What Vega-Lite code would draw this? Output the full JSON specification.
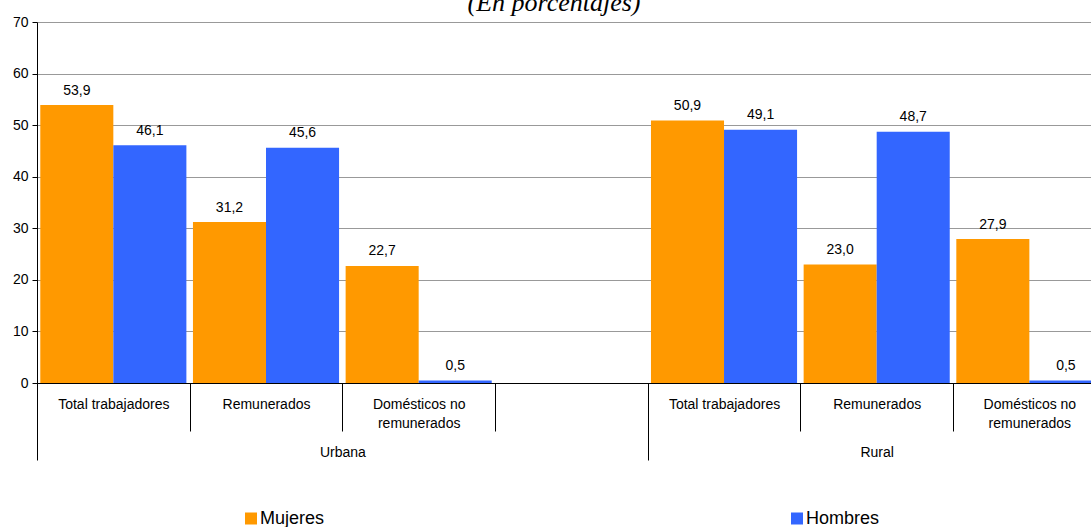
{
  "$schema": "https://vega.github.io/schema/vega-lite/v6.json",
  "width": 1054,
  "height": 361,
  "autosize": {"type": "none"},
  "padding": {"left": 37, "top": 22, "right": 0, "bottom": 144},
  "background": "white",
  "title": {
    "text": "(En porcentajes)",
    "font": "Liberation Serif",
    "fontStyle": "italic",
    "fontWeight": "normal",
    "fontSize": 26,
    "color": "black",
    "baseline": "alphabetic",
    "anchor": "middle",
    "frame": "group",
    "offset": 1,
    "dx": -10,
    "dy": 23
  },
  "datasets": {
    "barras": [
      {"area": "Urbana", "columna": "Urbana|Total trabajadores", "sexo": "Mujeres", "valor": 53.9},
      {"area": "Urbana", "columna": "Urbana|Total trabajadores", "sexo": "Hombres", "valor": 46.1},
      {"area": "Urbana", "columna": "Urbana|Remunerados", "sexo": "Mujeres", "valor": 31.2},
      {"area": "Urbana", "columna": "Urbana|Remunerados", "sexo": "Hombres", "valor": 45.6},
      {"area": "Urbana", "columna": "Urbana|Domésticos no remunerados", "sexo": "Mujeres", "valor": 22.7},
      {"area": "Urbana", "columna": "Urbana|Domésticos no remunerados", "sexo": "Hombres", "valor": 0.5},
      {"area": "Rural", "columna": "Rural|Total trabajadores", "sexo": "Mujeres", "valor": 50.9},
      {"area": "Rural", "columna": "Rural|Total trabajadores", "sexo": "Hombres", "valor": 49.1},
      {"area": "Rural", "columna": "Rural|Remunerados", "sexo": "Mujeres", "valor": 23.0},
      {"area": "Rural", "columna": "Rural|Remunerados", "sexo": "Hombres", "valor": 48.7},
      {"area": "Rural", "columna": "Rural|Domésticos no remunerados", "sexo": "Mujeres", "valor": 27.9},
      {"area": "Rural", "columna": "Rural|Domésticos no remunerados", "sexo": "Hombres", "valor": 0.5}
    ],
    "grupos": [
      {"grupo": "Urbana", "desde": 0, "hasta": 4},
      {"grupo": "Rural", "desde": 4, "hasta": 7}
    ]
  },
  "layer": [
    {
      "data": {"name": "barras"},
      "encoding": {
        "x": {
          "field": "columna",
          "type": "nominal",
          "scale": {
            "domain": ["Urbana|Total trabajadores", "Urbana|Remunerados", "Urbana|Domésticos no remunerados", "Urbana|", "Rural|Total trabajadores", "Rural|Remunerados", "Rural|Domésticos no remunerados"],
            "range": [0, 1068.7],
            "paddingInner": 0,
            "paddingOuter": 0
          },
          "axis": {
            "title": null,
            "orient": "bottom",
            "tickBand": "extent",
            "tickSize": 48,
            "tickColor": "black",
            "tickWidth": 1,
            "domainColor": "black",
            "domainWidth": 1,
            "grid": false,
            "labelAngle": 0,
            "labelPadding": -34,
            "labelOverlap": false,
            "labelLineHeight": 19,
            "labelFontSize": 14,
            "labelExpr": "split(datum.value, '|')[1] == 'Domésticos no remunerados' ? ['Domésticos no', 'remunerados'] : (split(datum.value, '|')[1] || '')"
          }
        },
        "xOffset": {
          "field": "sexo",
          "type": "nominal",
          "scale": {"domain": ["Mujeres", "Hombres"], "paddingInner": 0, "paddingOuter": 0.045}
        },
        "y": {
          "field": "valor",
          "type": "quantitative",
          "scale": {"domain": [0, 70], "nice": false},
          "axis": {
            "title": null,
            "values": [0, 10, 20, 30, 40, 50, 60, 70],
            "tickSize": 5,
            "tickColor": "black",
            "domainColor": "black",
            "gridColor": "#999999",
            "gridWidth": 1,
            "labelPadding": 4,
            "labelFontSize": 14
          }
        }
      },
      "layer": [
        {
          "mark": {"type": "bar"},
          "encoding": {
            "color": {
              "field": "sexo",
              "type": "nominal",
              "scale": {"domain": ["Mujeres", "Hombres"], "range": ["#FF9900", "#3366FF"]},
              "legend": {
                "title": null,
                "orient": "none",
                "legendX": 205,
                "legendY": 487.5,
                "direction": "horizontal",
                "symbolType": "square",
                "symbolSize": 144,
                "symbolStrokeWidth": 0,
                "labelFontSize": 18,
                "labelOffset": 0,
                "columnPadding": 463,
                "padding": 0
              }
            }
          }
        },
        {
          "mark": {"type": "text", "baseline": "alphabetic", "dy": -10.5, "fontSize": 14, "font": "Liberation Sans", "color": "black"},
          "encoding": {
            "text": {"field": "valor", "type": "quantitative", "format": ".1f"}
          }
        }
      ]
    },
    {
      "data": {"name": "grupos"},
      "mark": {"type": "rule", "opacity": 0},
      "encoding": {
        "x": {
          "field": "desde",
          "type": "quantitative",
          "scale": {"domain": [0, 7], "range": [0, 1068.7], "nice": false, "zero": false},
          "axis": {
            "orient": "bottom",
            "title": null,
            "values": [0, 4, 7],
            "tickSize": 77,
            "tickColor": "black",
            "tickWidth": 1,
            "labels": false,
            "domain": false,
            "grid": false
          }
        }
      }
    },
    {
      "data": {"name": "grupos"},
      "mark": {"type": "rule", "opacity": 0},
      "encoding": {
        "x": {
          "field": "desde",
          "type": "quantitative",
          "scale": {"domain": [0, 7], "range": [0, 1068.7], "nice": false, "zero": false},
          "axis": {
            "orient": "bottom",
            "title": null,
            "values": [2, 5.5],
            "ticks": false,
            "tickSize": 0,
            "domain": false,
            "grid": false,
            "labelPadding": 62,
            "labelFontSize": 14,
            "labelExpr": "datum.value == 2 ? 'Urbana' : 'Rural'"
          }
        }
      }
    }
  ],
  "resolve": {"scale": {"x": "independent"}, "axis": {"x": "independent"}},
  "config": {
    "view": {"stroke": null},
    "font": "Liberation Sans",
    "axis": {"labelFont": "Liberation Sans", "labelColor": "black"},
    "legend": {"labelFont": "Liberation Sans", "labelColor": "black"},
    "locale": {
      "number": {"decimal": ",", "thousands": ".", "grouping": [3], "currency": ["", " €"]}
    }
  }
}
